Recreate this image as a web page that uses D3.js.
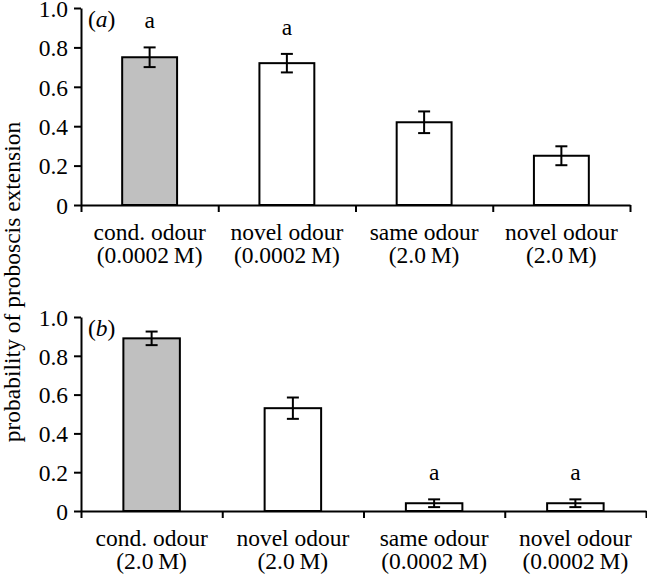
<!DOCTYPE html>
<html>
<head>
<meta charset="utf-8">
<script src="https://cdn.jsdelivr.net/npm/d3@7"></script>
<style>
  body { margin: 0; background: #fff; }
  svg { display: block; }
  svg text { font-family: "Liberation Serif", "Times New Roman", Times, serif !important; fill: #000; }
</style>
</head>
<body>
<svg width="647" height="576"></svg>
<script>
// panel (a)
var catsA = [["cond. odour", "(0.0002\u2009M)"], ["novel odour", "(0.0002\u2009M)"], ["same odour", "(2.0\u2009M)"], ["novel odour", "(2.0\u2009M)"]];
var valsA = [0.75, 0.72, 0.42, 0.25];
var errA = [0.05, 0.047, 0.055, 0.048];
var letA = ["a", "a", "", ""];

// panel (b)
var catsB = [["cond. odour", "(2.0\u2009M)"], ["novel odour", "(2.0\u2009M)"], ["same odour", "(0.0002\u2009M)"], ["novel odour", "(0.0002\u2009M)"]];
var valsB = [0.89, 0.53, 0.04, 0.04];
var errB = [0.035, 0.055, 0.02, 0.02];
var letB = ["", "", "a", "a"];

var yTicks = [0, 0.2, 0.4, 0.6, 0.8, 1.0];
var fills = ["#c0c0c0", "#fff", "#fff", "#fff"];

var svg = d3.select("svg");
var fs = 23.5;

function drawPanel(tag, cats, vals, errs, lets, box) {
	var g = svg.append("g");
	var idx = d3.range(cats.length);

	var x = d3.scaleBand().domain(idx).range([box.left, box.right]).paddingInner(0.6).paddingOuter(0.3);
	var xEdge = d3.scaleLinear().domain([0, cats.length]).range([box.left, box.right]);
	var y = d3.scaleLinear().domain([0, 1]).range([box.bottom, box.top]);

	// bars
	g.selectAll(".bar").data(idx).enter().append("rect")
		.attr("x", function(i) { return x(i); })
		.attr("y", function(i) { return y(vals[i]); })
		.attr("width", x.bandwidth())
		.attr("height", function(i) { return y(0) - y(vals[i]); })
		.attr("fill", function(i) { return fills[i]; })
		.attr("stroke", "#000")
		.attr("stroke-width", 2);

	// error bars
	var cap = 6;
	idx.forEach(function(i) {
		var cx = x(i) + x.bandwidth() / 2;
		var e = g.append("g").attr("stroke", "#000").attr("stroke-width", 2);
		e.append("line").attr("x1", cx).attr("x2", cx)
			.attr("y1", y(vals[i] + errs[i])).attr("y2", y(vals[i] - errs[i]));
		e.append("line").attr("x1", cx - cap).attr("x2", cx + cap)
			.attr("y1", y(vals[i] + errs[i])).attr("y2", y(vals[i] + errs[i]));
		e.append("line").attr("x1", cx - cap).attr("x2", cx + cap)
			.attr("y1", y(vals[i] - errs[i])).attr("y2", y(vals[i] - errs[i]));
		if (lets[i]) {
			g.append("text").attr("x", cx).attr("y", y(vals[i] + errs[i]) - 19)
				.attr("text-anchor", "middle").style("font-size", fs + "px").text(lets[i]);
		}
	});

	// y axis
	var yAxis = g.append("g")
		.attr("transform", "translate(" + box.left + ",0)")
		.call(d3.axisLeft(y).tickValues(yTicks).tickSize(7).tickSizeOuter(0).tickPadding(6)
			.tickFormat(function(d) { return d === 0 ? "0" : d3.format(".1f")(d); }));
	yAxis.attr("font-family", null);
	yAxis.selectAll("text").style("font-size", fs + "px").attr("dy", "0.35em");

	// x axis with ticks at category edges
	var xAxis = g.append("g")
		.attr("transform", "translate(0," + box.bottom + ")")
		.call(d3.axisBottom(xEdge).tickValues(d3.range(cats.length + 1)).tickSize(7).tickSizeOuter(0).tickFormat(""));

	[yAxis, xAxis].forEach(function(a) {
		a.select(".domain").attr("stroke-width", 2);
		a.selectAll(".tick line").attr("stroke-width", 2);
	});

	// category labels, one text per line
	[0, 1].forEach(function(line) {
		g.selectAll(".cat" + line).data(idx).enter().append("text")
			.attr("text-anchor", "middle")
			.style("font-size", fs + "px")
			.attr("x", function(i) { return x(i) + x.bandwidth() / 2; })
			.attr("y", box.bottom + 35 + line * 23)
			.text(function(i) { return cats[i][line]; });
	});

	// panel tag
	var t = g.append("text").attr("x", box.left + 7).attr("y", box.top + 19).style("font-size", fs + "px");
	t.append("tspan").text("(");
	t.append("tspan").style("font-style", "italic").text(tag);
	t.append("tspan").text(")");
}

drawPanel("a", catsA, valsA, errA, letA, { left: 81, right: 630, top: 8, bottom: 205 });
drawPanel("b", catsB, valsB, errB, letB, { left: 81, right: 646, top: 317, bottom: 511 });

// shared y label
svg.append("text")
	.attr("text-anchor", "middle")
	.attr("transform", "translate(20,282)rotate(-90)")
	.style("font-size", fs + "px")
	.text("probability of proboscis extension");
</script>
</body>
</html>
